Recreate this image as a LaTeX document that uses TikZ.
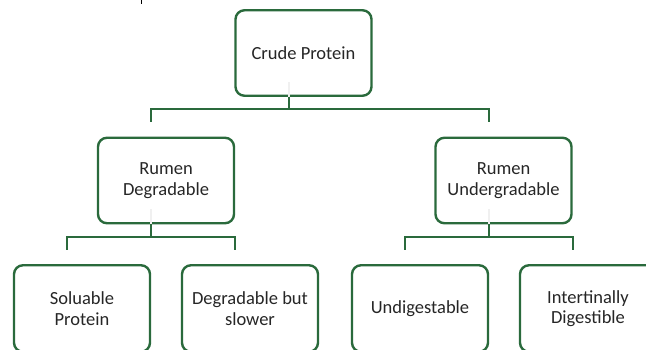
\documentclass[tikz,border=0pt]{standalone}
\usepackage{fontspec}
\setmainfont{Carlito}
\usepackage{tikz}
\usepackage{xcolor}
\usetikzlibrary{calc}

\definecolor{leafgreen}{RGB}{42,106,60}

\begin{document}
\begin{tikzpicture}[x=1pt,y=-1pt,
    item/.style={draw=leafgreen,line width=2.4pt,rounded corners=9pt,fill=white,
      minimum width=136pt,minimum height=85.5pt,align=center,inner sep=0pt,
      text=black!85,font=\fontsize{18.5}{20.5}\selectfont},
    link/.style={draw=leafgreen,line width=2pt},
    ghost/.style={draw=gray!12,line width=2pt}]
  \useasboundingbox (0,0) rectangle (646,349);
  \clip (0,0) rectangle (646,349);

  % top level
  \node[item] (crude) at (303.5,53) {Crude Protein};

  % second level
  \node[item] (rdeg) at (166,180.5) {Rumen\\Degradable};
  \node[item] (rund) at (503.5,180.5) {Rumen\\Undergradable};

  % third level (cut off at the bottom)
  \node[item,minimum height=86.5pt] (sol)    at (82,308.5)  {Soluable\\Protein};
  \node[item,minimum height=86.5pt] (slow)   at (250,308.5) {Degradable but\\slower};
  \node[item,minimum height=86.5pt] (undig)  at (420,308.5) {Undigestable};
  \node[item,minimum height=86.5pt] (intest) at (588,308.5) {Intertinally\\Digestible};

  % faint stubs inside the parent boxes
  \foreach \p in {crude,rdeg,rund}
    \draw[ghost] ([xshift=-15pt]\p.south) -- ++(0,-15);

  % brackets
  \draw[link] ([xshift=-15pt]crude.south) -- ++(0,12) -| ([shift={(-15pt,15pt)}]rdeg.north);
  \draw[link] ([xshift=-15pt]crude.south) -- ++(0,12) -| ([shift={(-15pt,15pt)}]rund.north);
  \draw[link] ([xshift=-15pt]rdeg.south) -- ++(0,13) -| ([shift={(-15pt,14pt)}]sol.north);
  \draw[link] ([xshift=-15pt]rdeg.south) -- ++(0,13) -| ([shift={(-15pt,14pt)}]slow.north);
  \draw[link] ([xshift=-15pt]rund.south) -- ++(0,13) -| ([shift={(-15pt,14pt)}]undig.north);
  \draw[link] ([xshift=-15pt]rund.south) -- ++(0,13) -| ([shift={(-15pt,14pt)}]intest.north);

  % cut-off mark at the top edge
  \coordinate (mark) at (141,0);
  \draw[line width=1pt] (mark) -- ++(0,3.5);
\end{tikzpicture}
\end{document}
